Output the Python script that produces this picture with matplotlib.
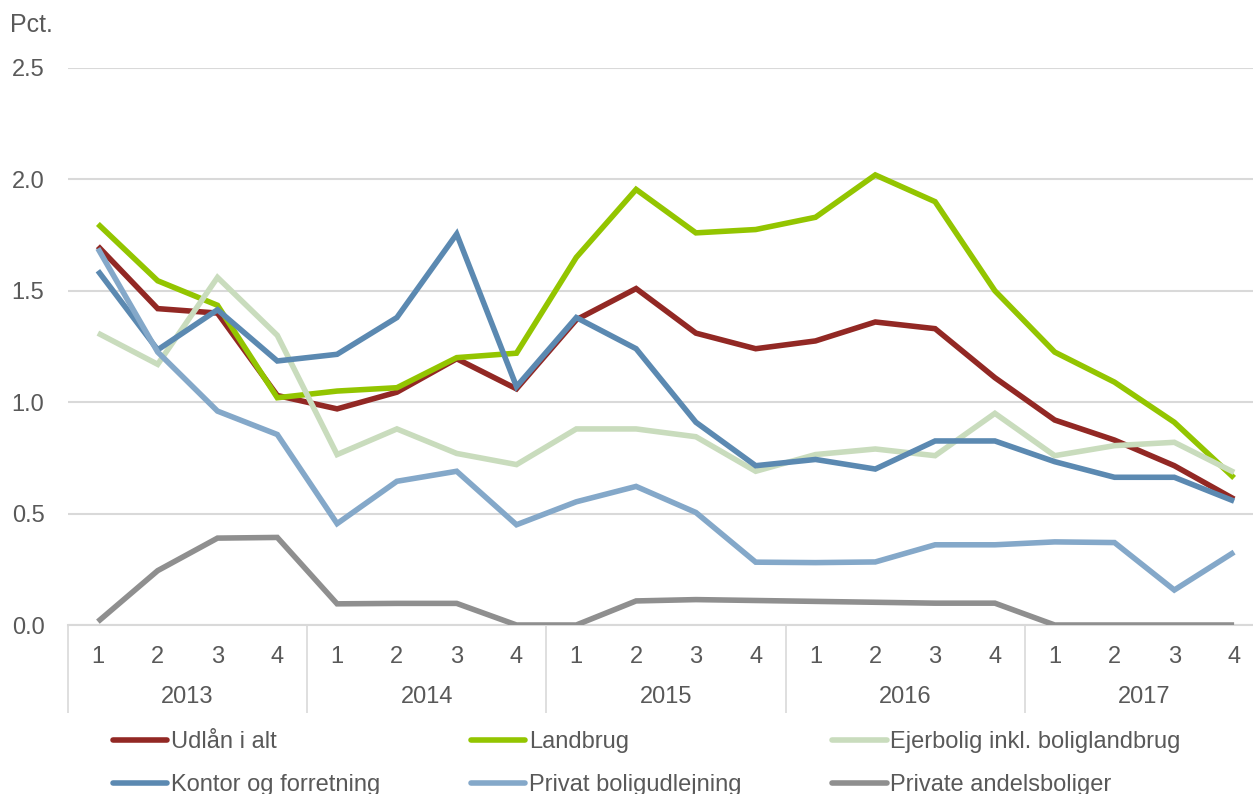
import numpy as np
import matplotlib.pyplot as plt
import matplotlib.transforms as mtransforms
from matplotlib.lines import Line2D

# Data

years = ["2013", "2014", "2015", "2016", "2017"]
quarters = ["1", "2", "3", "4"]

udlaan_i_alt = [1.70, 1.42, 1.40, 1.03, 0.97, 1.045, 1.195, 1.06, 1.37, 1.51,
                1.31, 1.24, 1.275, 1.36, 1.33, 1.11, 0.92, 0.83, 0.715, 0.565]
landbrug = [1.80, 1.545, 1.435, 1.02, 1.05, 1.065, 1.20, 1.22, 1.65, 1.955,
            1.76, 1.775, 1.83, 2.02, 1.90, 1.50, 1.225, 1.09, 0.91, 0.66]
ejerbolig = [1.31, 1.17, 1.56, 1.30, 0.765, 0.88, 0.77, 0.72, 0.88, 0.88,
             0.845, 0.69, 0.765, 0.79, 0.76, 0.95, 0.76, 0.805, 0.82, 0.685]
kontor = [1.59, 1.235, 1.415, 1.185, 1.215, 1.38, 1.755, 1.07, 1.38, 1.24,
          0.91, 0.715, 0.743, 0.70, 0.826, 0.826, 0.733, 0.663, 0.663, 0.556]
privat_boligudlejning = [1.69, 1.225, 0.96, 0.855, 0.455, 0.645, 0.69, 0.45, 0.553, 0.622,
                         0.505, 0.282, 0.28, 0.283, 0.36, 0.36, 0.373, 0.37, 0.157, 0.327]
andelsboliger = [0.015, 0.244, 0.39, 0.393, 0.095, 0.097, 0.097, 0.0, 0.0, 0.108,
                 0.114, 0.11, 0.106, 0.102, 0.098, 0.098, 0.0, 0.0, 0.0, 0.0]

series_labels = ["Udlån i alt", "Landbrug", "Ejerbolig inkl. boliglandbrug",
                 "Kontor og forretning", "Privat boligudlejning", "Private andelsboliger"]
series_values = [udlaan_i_alt, landbrug, ejerbolig, kontor, privat_boligudlejning, andelsboliger]
series_colors = ["#922824", "#93C500", "#C9DCBD", "#5B89B1", "#84A8C9", "#8F8F8F"]

# Style

plt.rcParams['font.family'] = ['Liberation Sans', 'DejaVu Sans']
text_color = "#595959"
grid_color = "#D9D9D9"
fs = 17
lw = 4.0

fig = plt.figure(figsize=(12.53, 7.94), dpi=100)
ax = fig.add_axes([68/1253, 169/794, 1196/1253, 557/794])

n = len(years) * len(quarters)
x = np.arange(n)

for vals, lab, col in zip(series_values, series_labels, series_colors):
    ax.plot(x, vals, color=col, lw=lw, label=lab, solid_joinstyle='miter',
            solid_capstyle='butt', zorder=3)

ax.set_xlim(-0.5, n - 0.5)
ax.set_ylim(0, 2.5)
ax.set_yticks([0, 0.5, 1.0, 1.5, 2.0, 2.5])
ax.set_yticklabels(["0.0", "0.5", "1.0", "1.5", "2.0", "2.5"])
ax.yaxis.grid(True, color=grid_color, lw=1.5, zorder=0)
ax.set_axisbelow(True)

for s in ["top", "right", "left"]:
    ax.spines[s].set_visible(False)
ax.spines["bottom"].set_color(grid_color)
ax.spines["bottom"].set_linewidth(1.5)

ax.tick_params(axis='y', length=0, pad=17, labelsize=fs, labelcolor=text_color)

# quarter labels as major ticks, year separators as long minor ticks
ax.set_xticks(x)
ax.set_xticklabels(quarters * len(years))
ax.tick_params(axis='x', which='major', length=0, pad=15, labelsize=fs, labelcolor=text_color)
ax.set_xticks(np.arange(-0.5, n, len(quarters)), minor=True)
ax.tick_params(axis='x', which='minor', length=63, width=1.2, color=grid_color, direction='out')

trans = mtransforms.blended_transform_factory(ax.transData, ax.transAxes)
for i, yr in enumerate(years):
    ax.text(i * len(quarters) + 1.5, -72/557, yr, transform=trans, ha='center', va='center',
            fontsize=fs, color=text_color)

fig.text(10/1253, 1 - 25/794, "Pct.", ha='left', va='center', fontsize=fs + 1, color=text_color)

# legend is filled column by column, so order the entries to read row by row
order = [0, 3, 1, 4, 2, 5]
handles = [Line2D([0], [0], color=series_colors[i], lw=lw, solid_capstyle='round') for i in order]
labels = [series_labels[i] for i in order]
fig.legend(handles, labels, ncol=3, loc='upper left',
           bbox_to_anchor=(113/1253, 1 - 731/794), frameon=False,
           fontsize=fs, labelcolor=text_color, handlelength=2.3, handletextpad=0.15,
           columnspacing=3.85, labelspacing=0.88, borderpad=0, borderaxespad=0)

fig.savefig("out.png", dpi=100)
